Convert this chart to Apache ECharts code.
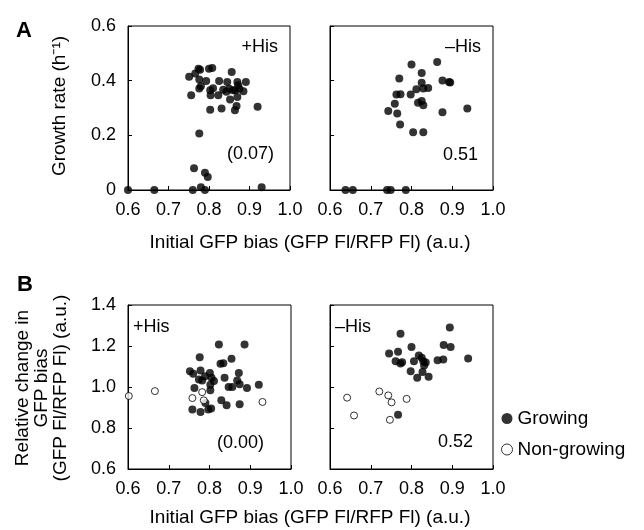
<!DOCTYPE html>
<html><head><meta charset="utf-8">
<script src="https://cdn.jsdelivr.net/npm/echarts@6/dist/echarts.min.js"></script>
<style>html,body{margin:0;padding:0;background:#fff}#c{width:644px;height:530px}</style>
</head><body><div id="c"></div>
<script>
// ---- data ----
var xTicks = [0.6, 0.7, 0.8, 0.9, 1.0];
var yTicksA = [0, 0.2, 0.4, 0.6];
var yTicksB = [0.6, 0.8, 1.0, 1.2, 1.4];

var growthPlusHis = [
 [0.60,0],[0.665,0],[0.76,0],[0.78,0.01],[0.79,0],[0.93,0.01],
 [0.763,0.08],[0.79,0.063],[0.797,0.048],[0.776,0.207],[0.92,0.305],
 [0.751,0.414],[0.766,0.426],[0.774,0.444],[0.778,0.44],[0.80,0.444],[0.808,0.446],
 [0.776,0.404],[0.793,0.399],[0.756,0.347],[0.776,0.371],[0.78,0.38],[0.803,0.365],
 [0.804,0.347],[0.81,0.372],[0.825,0.399],[0.823,0.347],[0.835,0.367],[0.845,0.395],
 [0.843,0.359],[0.856,0.432],[0.852,0.331],[0.859,0.365],[0.865,0.365],[0.87,0.395],
 [0.872,0.383],[0.87,0.34],[0.868,0.307],[0.864,0.292],[0.891,0.395],[0.885,0.361],
 [0.803,0.294],[0.831,0.298],[0.85,0.37],[0.875,0.37]
];
var growthMinusHis = [
 [0.638,0],[0.656,0],[0.740,0],[0.749,0],[0.786,0],
 [0.80,0.459],[0.863,0.468],[0.825,0.428],[0.77,0.408],[0.876,0.401],[0.892,0.395],
 [0.895,0.393],[0.825,0.392],[0.812,0.369],[0.829,0.371],[0.841,0.373],[0.763,0.349],
 [0.773,0.350],[0.759,0.316],[0.798,0.349],[0.816,0.319],[0.825,0.326],[0.829,0.310],
 [0.743,0.289],[0.765,0.280],[0.772,0.240],[0.804,0.211],[0.829,0.211],[0.876,0.284],
 [0.937,0.298]
];
var biasPlusGrowing = [
 [0.823,1.207],[0.886,1.207],[0.776,1.145],[0.827,1.113],[0.834,1.116],[0.854,1.138],
 [0.752,1.077],[0.76,1.065],[0.778,1.081],[0.774,1.036],[0.782,1.032],[0.801,1.068],
 [0.805,1.045],[0.811,1.029],[0.789,1.052],[0.802,0.984],[0.763,0.995],[0.837,1.045],
 [0.872,1.068],[0.868,1.032],[0.874,1.013],[0.847,1.0],[0.856,1.0],[0.892,0.995],
 [0.921,1.011],[0.829,0.935],[0.842,0.911],[0.874,0.916],[0.758,0.89],[0.778,0.878],
 [0.797,0.89],[0.804,0.895],[0.79,0.922],[0.802,1.011]
];
var biasPlusNonGrowing = [
 [0.602,0.956],[0.666,0.98],[0.758,0.946],[0.782,0.975],[0.786,0.935],[0.93,0.927]
];
var biasMinusGrowing = [
 [0.767,0.865],[0.894,1.29],[0.773,1.26],[0.879,1.205],[0.896,1.195],[0.80,1.195],
 [0.745,1.164],[0.767,1.172],[0.761,1.126],[0.773,1.115],[0.777,1.121],[0.806,1.126],
 [0.818,1.154],[0.825,1.143],[0.829,1.126],[0.831,1.105],[0.798,1.077],[0.827,1.073],
 [0.814,1.045],[0.842,1.05],[0.864,1.131],[0.878,1.134],[0.939,1.139],[0.835,1.12]
];
var biasMinusNonGrowing = [
 [0.642,0.948],[0.659,0.861],[0.721,0.978],[0.743,0.959],[0.751,0.925],[0.788,0.942],[0.747,0.840]
];

// ---- chart ----
var FONT = 'Liberation Sans, Arial, sans-serif';
var grids = [
 {left:128, top:26, width:162, height:164},
 {left:330, top:26, width:163, height:164},
 {left:128, top:305, width:163, height:164},
 {left:330, top:305, width:163, height:164}
];
function fmt(v){ return Math.abs(v) < 1e-9 ? '0' : (+v).toFixed(1); }
function xAxis(i){
  return {gridIndex:i, type:'value', min:xTicks[0], max:xTicks[xTicks.length-1], interval:0.1,
    axisLine:{show:true, onZero:false, lineStyle:{color:'#000', width:1}},
    axisTick:{show:true, inside:true, length:4, lineStyle:{color:'#000'}},
    splitLine:{show:false},
    axisLabel:{show:true, margin:11, color:'#000', fontSize:18, fontFamily:FONT, formatter:fmt}};
}
function yAxis(i, ticks, showLabel){
  return {gridIndex:i, type:'value', min:ticks[0], max:ticks[ticks.length-1], interval:0.2,
    axisLine:{show:true, onZero:false, lineStyle:{color:'#000', width:1}},
    axisTick:{show:true, inside:true, length:4, lineStyle:{color:'#000'}},
    splitLine:{show:false},
    axisLabel:{show:showLabel, margin:12, color:'#000', fontSize:18, fontFamily:FONT, formatter:fmt}};
}
var filled = {color:'#000'};
var open = {color:'#fff', borderColor:'#000', borderWidth:1};
function sc(name, i, data, style, size){
  return {name:name, type:'scatter', xAxisIndex:i, yAxisIndex:i, data:data, symbol:'circle',
    symbolSize:size, itemStyle:style, clip:false, emphasis:{disabled:true}, silent:true, z:3};
}
function txt(x, y, s, align, extra){
  var st = {text:s, x:0, y:0, fill:'#000', font:'18px ' + FONT, textAlign:align||'left', textVerticalAlign:'middle'};
  if (extra) for (var k in extra) st[k] = extra[k];
  return {type:'text', x:x, y:y, style:st, z:10, silent:true};
}
var option = {
  animation:false,
  backgroundColor:'#fff',
  grid: grids.map(function(g){ return {left:g.left, top:g.top, width:g.width, height:g.height,
      show:true, borderColor:'#000', borderWidth:1, backgroundColor:'transparent', containLabel:false}; }),
  xAxis:[xAxis(0), xAxis(1), xAxis(2), xAxis(3)],
  yAxis:[yAxis(0, yTicksA, true), yAxis(1, yTicksA, false), yAxis(2, yTicksB, true), yAxis(3, yTicksB, false)],
  legend:{orient:'vertical', left:496, top:404, itemWidth:11, itemHeight:11, itemGap:12,
    icon:'circle', selectedMode:false,
    textStyle:{fontSize:19, fontFamily:FONT, color:'#000'},
    data:[{name:'Growing', itemStyle:{color:'#000'}},
          {name:'Non-growing', itemStyle:{color:'#fff', borderColor:'#000', borderWidth:1}}]},
  series:[
    sc('A+His', 0, growthPlusHis, filled, 8),
    sc('A-His', 1, growthMinusHis, filled, 8),
    sc('Growing', 2, biasPlusGrowing, filled, 8),
    sc('Non-growing', 2, biasPlusNonGrowing, open, 7),
    sc('Growing', 3, biasMinusGrowing, filled, 8),
    sc('Non-growing', 3, biasMinusNonGrowing, open, 7)
  ],
  graphic:[
    txt(24, 31, 'A', 'center', {font:'bold 22px ' + FONT}),
    txt(25, 285, 'B', 'center', {font:'bold 22px ' + FONT}),
    txt(278, 47, '+His', 'right'),
    txt(274, 154, '(0.07)', 'right'),
    txt(481, 47, '\u2013His', 'right'),
    txt(478, 155, '0.51', 'right'),
    txt(133, 327, '+His', 'left'),
    txt(264, 443, '(0.00)', 'right'),
    txt(335, 327, '\u2013His', 'left'),
    txt(473, 442, '0.52', 'right'),
    txt(310, 243, 'Initial GFP bias (GFP Fl/RFP Fl) (a.u.)', 'center', {font:'19px ' + FONT}),
    txt(310, 518, 'Initial GFP bias (GFP Fl/RFP Fl) (a.u.)', 'center', {font:'19px ' + FONT}),
    {type:'text', x:60, y:106, rotation:Math.PI/2, z:10, silent:true,
     style:{text:'Growth rate (h\u207B\u00B9)', fill:'#000', font:'19px ' + FONT, textAlign:'center', textVerticalAlign:'middle'}},
    {type:'text', x:42, y:388, rotation:Math.PI/2, z:10, silent:true,
     style:{text:'Relative change in\nGFP bias\n(GFP Fl/RFP Fl) (a.u.)', fill:'#000', font:'19px ' + FONT,
            lineHeight:19, textAlign:'center', textVerticalAlign:'middle'}}
  ]
};
var chart = echarts.init(document.getElementById('c'), null, {renderer:'canvas'});
chart.setOption(option);
</script>
</body></html>
